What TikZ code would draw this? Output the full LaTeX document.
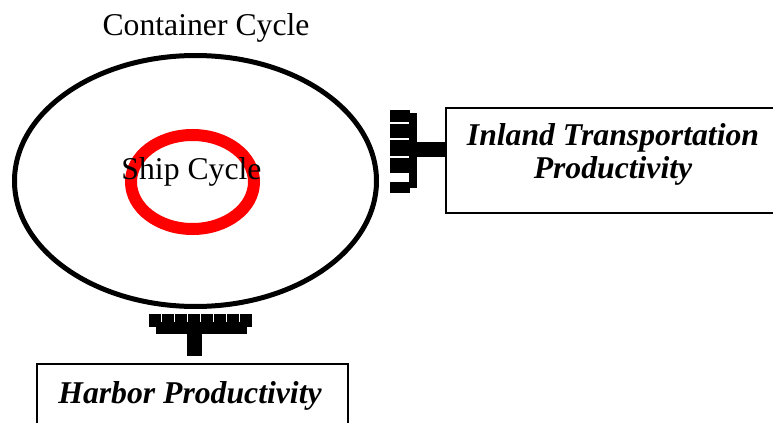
\documentclass[tikz,border=0pt]{standalone}
\usepackage{fontspec}
\setmainfont{Liberation Serif}
\usetikzlibrary{positioning}
\definecolor{Ink}{HTML}{000000}
\definecolor{ShipRed}{HTML}{FF0000}
\tikzset{
  prodbox/.style={draw=Ink,line width=1pt,inner sep=0pt,anchor=north west},
  prodtext/.style={font=\fontsize{15.85}{16.5}\selectfont\bfseries\itshape,align=center,inner sep=0pt},
  cyctext/.style={font=\fontsize{15.85}{16.5}\selectfont,anchor=base,inner sep=0pt},
}

\begin{document}
\begin{tikzpicture}[x=0.5pt,y=-0.5pt]
  \useasboundingbox (0,0) rectangle (773,423);
  \clip (0,0) rectangle (773,423);
  % the two cycles
  \draw[Ink,line width=2.5pt] (195.5,181) ellipse [x radius=181,y radius=125.5];
  \draw[ShipRed,line width=6pt] (192.5,182) ellipse [x radius=61.5,y radius=47];
  \node[cyctext] (container) at (206,35) {Container Cycle};
  \node[cyctext] (ship) at (191.5,179) {Ship Cycle};
  % productivity boxes
  \node[prodbox,minimum width=167pt,minimum height=52.5pt] (inland) at (445,107) {};
  \node[prodtext] (inlandlab) at (613,154) {Inland Transportation\\Productivity};
  \node[prodbox,minimum width=155.5pt,minimum height=41pt] (harbor) at (36,363) {};
  \node[prodtext,anchor=base] (harborlab) at (190,403) {Harbor Productivity};
  % comb joining the container cycle to the inland box
  \foreach \ya/\yb in {110/122,123.5/138,139.5/156,157.5/173,182/193}
    \fill[Ink] (390,\ya) rectangle (410,\yb);
  \fill[Ink] (409,113) rectangle (417,188);
  \fill[Ink] (416,142) rectangle (447,157);
  % comb joining the container cycle to the harbor box
  \foreach \k in {0,...,7}
    \fill[Ink] ({149+13*\k},314) rectangle ({160.5+13*\k},327);
  \fill[Ink] (156,322) rectangle (247,334);
  \fill[Ink] (187,334) rectangle (202,356);
\end{tikzpicture}
\end{document}
